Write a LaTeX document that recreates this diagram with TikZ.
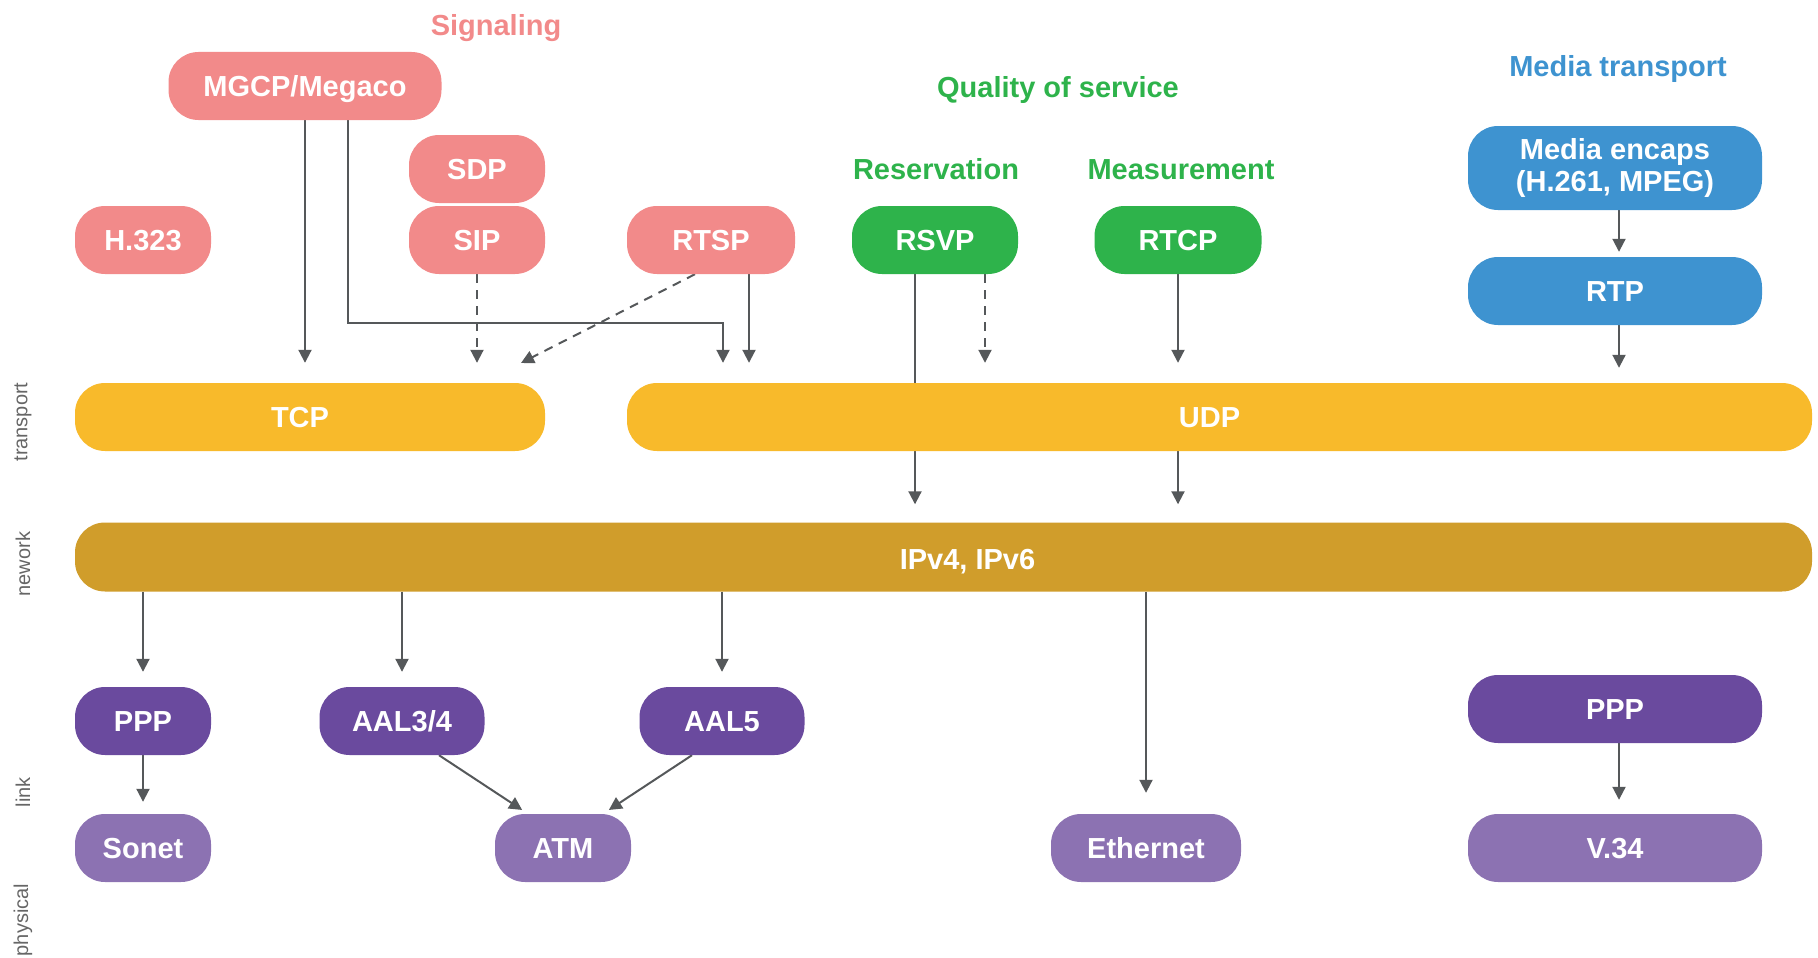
\documentclass[tikz,border=0pt]{standalone}
\usepackage{fontspec}
\setmainfont{Liberation Sans}
\usetikzlibrary{arrows.meta}
\definecolor{cpink}{HTML}{F28A8A}
\definecolor{cgreen}{HTML}{2EB34B}
\definecolor{cblue}{HTML}{3E93D0}
\definecolor{cyellow}{HTML}{F8BA2B}
\definecolor{cgold}{HTML}{D09D2B}
\definecolor{cdpurple}{HTML}{6A4A9E}
\definecolor{clpurple}{HTML}{8C72B2}
\definecolor{cline}{HTML}{55585A}
\definecolor{cside}{HTML}{666666}
\pgfdeclarelayer{bg}
\pgfsetlayers{bg,main}
\begin{document}
\begin{tikzpicture}[x=1pt,y=-1pt,
  mbox/.style={rounded corners=30pt, minimum height=68pt, inner sep=0pt, text=white,
    font=\bfseries\fontsize{29}{32}\selectfont, align=center},
  box/.style={mbox, text height=21pt, text depth=0pt},
  sig/.style={box, fill=cpink},
  qos/.style={box, fill=cgreen},
  trn/.style={box, fill=cyellow},
  net/.style={box, fill=cgold},
  lnk/.style={box, fill=cdpurple},
  phy/.style={box, fill=clpurple},
  bartext/.style={text=white, font=\bfseries\fontsize{29}{32}\selectfont, text height=21pt, text depth=0pt, inner sep=0pt},
  head/.style={font=\bfseries\fontsize{29}{32}\selectfont, inner sep=0pt, text height=21pt, text depth=0pt},
  side/.style={font=\fontsize{20}{24}\selectfont, text=cside, rotate=90, inner sep=0pt},
  arr/.style={draw=cline, line width=2pt, -{Triangle[length=13pt,width=13pt]}},
  dsh/.style={arr, dash pattern=on 9pt off 7pt},
]
\useasboundingbox (0,0) rectangle (1818,958);

% headings
\node[head, text=cpink] (hsig) at (496,25) {Signaling};
\node[head, text=cgreen] (hqos) at (1058,87) {Quality of service};
\node[head, text=cgreen] (hres) at (936,169) {Reservation};
\node[head, text=cgreen] (hmea) at (1181,169) {Measurement};
\node[head, text=cblue] (hmed) at (1618,66) {Media transport};

% side labels
\node[side] (ltr) at (23,422) {transport};
\node[side] (lnw) at (23,564) {nework};
\node[side] (lli) at (23,792) {link};
\node[side] (lph) at (23,920) {physical};

% signaling
\node[sig, minimum width=273pt] (mgcp) at (305,86) {MGCP/Megaco};
\node[sig, minimum width=136pt] (sdp) at (477,169) {SDP};
\node[sig, minimum width=136pt] (sip) at (477,240) {SIP};
\node[sig, minimum width=136pt] (h323) at (143,240) {H.323};
\node[sig, minimum width=168pt] (rtsp) at (711,240) {RTSP};

% qos
\node[qos, minimum width=166pt] (rsvp) at (935,240) {RSVP};
\node[qos, minimum width=167pt] (rtcp) at (1178,240) {RTCP};

% media
\node[mbox, fill=cblue, minimum width=294pt, minimum height=84pt] (media) at (1615,168) {Media encaps\\(H.261, MPEG)};
\node[box, fill=cblue, minimum width=294pt] (rtp) at (1615,291) {RTP};

% transport
\node[trn, minimum width=470pt, label={[bartext, xshift=-10pt]center:TCP}] (tcp) at (310,417) {};
\node[trn, minimum width=1185pt, label={[bartext, xshift=-10pt]center:UDP}] (udp) at (1219.5,417) {};

% network
\node[net, minimum width=1737pt, minimum height=69pt, label={[bartext, xshift=24pt, yshift=-2pt]center:{IPv4, IPv6}}] (ip) at (943.5,557) {};

% link
\node[lnk, minimum width=136pt] (ppp1) at (143,721) {PPP};
\node[lnk, minimum width=165pt] (aal34) at (402,721) {AAL3/4};
\node[lnk, minimum width=165pt] (aal5) at (722,721) {AAL5};
\node[lnk, minimum width=294pt] (ppp2) at (1615,709) {PPP};

% physical
\node[phy, minimum width=136pt] (sonet) at (143,848) {Sonet};
\node[phy, minimum width=136pt] (atm) at (563,848) {ATM};
\node[phy, minimum width=190pt] (eth) at (1146,848) {Ethernet};
\node[phy, minimum width=294pt] (v34) at (1615,848) {V.34};

\coordinate (bendA) at (723,323);
\coordinate (rtspEnd) at (521,363);

\begin{pgfonlayer}{bg}
\draw[arr, shorten >=20pt] (mgcp.south) -- (mgcp.south |- tcp.north);
\draw[arr, shorten >=20pt] ([xshift=43pt]mgcp.south) |- (bendA) -- (bendA |- udp.north);
\draw[dsh, shorten >=20pt] (sip.south) -- (sip.south |- tcp.north);
\draw[dsh] ([xshift=-16pt]rtsp.south) -- (rtspEnd);
\draw[arr, shorten >=20pt] ([xshift=38pt]rtsp.south) -- ([xshift=38pt]rtsp.south |- udp.north);
\draw[arr, shorten >=18pt] ([xshift=-20pt]rsvp.south) -- ([xshift=-20pt]rsvp.south |- ip.north);
\draw[dsh, shorten >=20pt] ([xshift=50pt]rsvp.south) -- ([xshift=50pt]rsvp.south |- udp.north);
\draw[arr, shorten >=20pt] (rtcp.south) -- (rtcp.south |- udp.north);
\draw[arr, shorten >=18pt] (rtcp.south |- udp.south) -- (rtcp.south |- ip.north);
\draw[arr, shorten >=5pt] ([xshift=4pt]media.south) -- ([xshift=4pt]rtp.north);
\draw[arr, shorten >=15pt] ([xshift=4pt]rtp.south) -- ([xshift=4pt]rtp.south |- udp.north);
\draw[arr, shorten >=15pt] (ppp1.north |- ip.south) -- (ppp1.north);
\draw[arr, shorten >=15pt] (aal34.north |- ip.south) -- (aal34.north);
\draw[arr, shorten >=15pt] (aal5.north |- ip.south) -- (aal5.north);
\draw[arr, shorten >=21pt] (eth.north |- ip.south) -- (eth.north);
\draw[arr, shorten >=12pt] (ppp1.south) -- (sonet.north);
\draw[arr, shorten >=7pt] ([xshift=37pt]aal34.south) -- ([xshift=-35pt]atm.north);
\draw[arr, shorten >=7pt] ([xshift=-30pt]aal5.south) -- ([xshift=40pt]atm.north);
\draw[arr, shorten >=14pt] ([xshift=4pt]ppp2.south) -- ([xshift=4pt]v34.north);
\end{pgfonlayer}
\end{tikzpicture}
\end{document}
